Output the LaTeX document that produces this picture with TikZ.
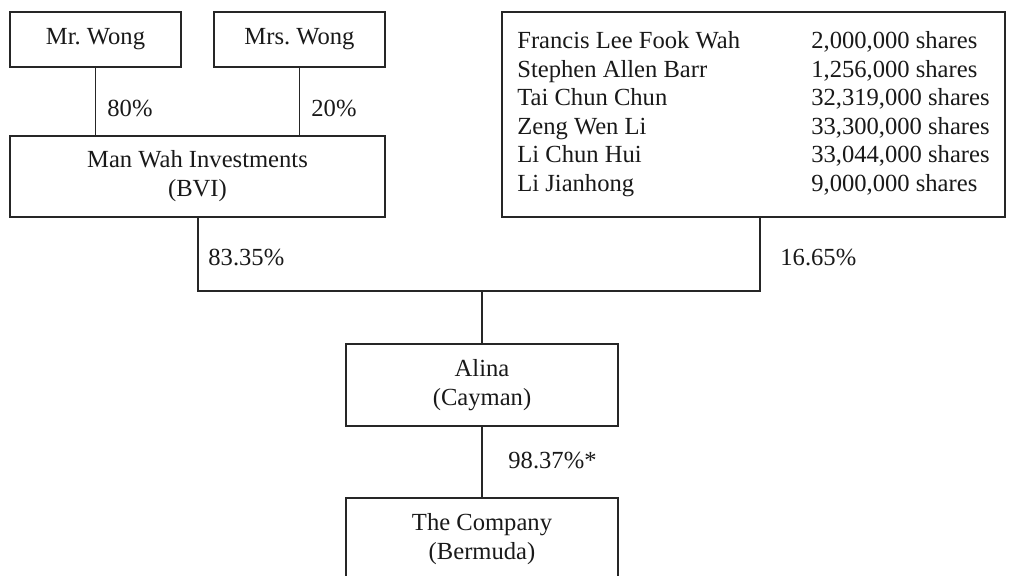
\documentclass[tikz,border=0pt]{standalone}
\usepackage{fontspec}
\setmainfont{Liberation Serif}
\frenchspacing
\tikzset{
  entity/.style={draw=black!85, line width=0.55pt, inner sep=0pt, align=center,
    font=\fontsize{12.3}{14.5}\selectfont, text=black!90},
  pct/.style={anchor=west, inner sep=0pt, font=\fontsize{12.3}{14.5}\selectfont, text=black!90},
  link/.style={line width=0.55pt, draw=black!85}
}
\begin{document}
\begin{tikzpicture}[x=0.5pt, y=-0.5pt]
  \useasboundingbox (0,0) rectangle (1016,575);
  \clip (0,0) rectangle (1016,575);
  % owners of Man Wah
  \node[entity, minimum width=85.5pt, minimum height=27.5pt] (mr) at (95.5,39.5) {Mr.\ Wong};
  \node[entity, minimum width=85.5pt, minimum height=27.5pt] (mrs) at (299.5,39.5) {Mrs.\ Wong};
  \node[entity, minimum width=187.5pt, minimum height=40.5pt] (manwah) at (197.5,176.5) {Man Wah Investments\\(BVI)};
  % other shareholders
  \node[entity, minimum width=251.5pt, minimum height=102.5pt] (holders) at (753.5,114.5) {%
    \fontsize{12.3}{14.25}\selectfont
    \begin{tabular}{@{}p{147pt}@{}l@{}}
      Francis Lee Fook Wah & 2,000,000 shares\\
      Stephen Allen Barr & 1,256,000 shares\\
      Tai Chun Chun & 32,319,000 shares\\
      Zeng Wen Li & 33,300,000 shares\\
      Li Chun Hui & 33,044,000 shares\\
      Li Jianhong & 9,000,000 shares
    \end{tabular}};
  \node[entity, minimum width=136pt, minimum height=41pt] (alina) at (482,385) {Alina\\(Cayman)};
  \node[entity, minimum width=136pt, minimum height=41pt] (company) at (482,539) {The Company\\(Bermuda)};
  \coordinate (busL) at (198,291);
  \coordinate (busR) at (760,291);
  % connectors
  \draw[link] (mr.south) -- (mr.south |- manwah.north);
  \draw[link] (mrs.south) -- (mrs.south |- manwah.north);
  \draw[link] (manwah.south -| busL) -- (busL) -- (busR) -- (busR |- holders.south);
  \draw[link] (alina.north |- busL) -- (alina.north);
  \draw[link] (alina.south) -- (company.north);
  % percentages
  \node[pct] (p80) at (107,108) {80\%};
  \node[pct] (p20) at (311,108) {20\%};
  \node[pct] (p8335) at (208,257) {83.35\%};
  \node[pct] (p1665) at (780,257) {16.65\%};
  \node[pct] (p9837) at (508,460) {98.37\%*};
\end{tikzpicture}
\end{document}
